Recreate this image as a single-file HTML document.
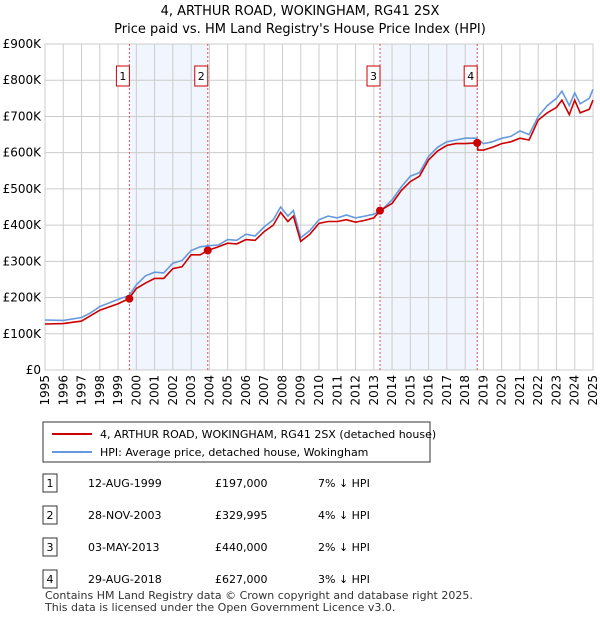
<!DOCTYPE html>
<html><head><meta charset="utf-8"><style>
body{margin:0;background:#fff;font-family:"Liberation Sans","DejaVu Sans",sans-serif;}
svg text{font-family:"DejaVu Sans","Liberation Sans",sans-serif;}
</style></head><body>
<svg id="c" width="600" height="620" xmlns="http://www.w3.org/2000/svg">
<text x="300" y="15" font-size="13" text-anchor="middle">4, ARTHUR ROAD, WOKINGHAM, RG41 2SX</text>
<text x="300" y="33" font-size="13" text-anchor="middle">Price paid vs. HM Land Registry's House Price Index (HPI)</text>
<g id="plot"></g>
<rect x="43" y="422" width="387" height="40" fill="#fff" stroke="#333"/>
<line x1="52" y1="434" x2="92" y2="434" stroke="#cc0000" stroke-width="2"/>
<text x="100" y="438" font-size="11">4, ARTHUR ROAD, WOKINGHAM, RG41 2SX (detached house)</text>
<line x1="52" y1="452" x2="92" y2="452" stroke="#6699dd" stroke-width="2"/>
<text x="100" y="456" font-size="11">HPI: Average price, detached house, Wokingham</text>
<g id="tbl" font-size="11"></g>
<text x="45" y="599" font-size="11" fill="#333">Contains HM Land Registry data © Crown copyright and database right 2025.</text>
<text x="45" y="611" font-size="11" fill="#333">This data is licensed under the Open Government Licence v3.0.</text>
</svg>
<script>
const hpiYears=[1995,1996,1997,1997.5,1998,1998.5,1999,1999.6,2000,2000.5,2001,2001.5,2002,2002.5,2003,2003.5,2003.9,2004.5,2005,2005.5,2006,2006.5,2007,2007.5,2007.9,2008.3,2008.6,2009,2009.5,2010,2010.5,2011,2011.5,2012,2012.5,2013,2013.4,2014,2014.5,2015,2015.5,2016,2016.5,2017,2017.5,2018,2018.6,2019,2019.5,2020,2020.5,2021,2021.5,2022,2022.5,2023,2023.3,2023.7,2024,2024.3,2024.8,2025];
const hpiValues=[138,137,145,158,175,185,195,205,235,260,270,268,295,302,330,340,343,345,360,358,375,370,395,415,450,425,440,365,385,415,425,420,428,420,425,430,440,470,505,535,545,590,615,630,635,640,640,625,630,640,645,660,650,700,730,750,770,730,765,735,750,775];
const priceYears=[1995,1996,1997,1998,1999,1999.6,2000,2000.5,2001,2001.5,2002,2002.5,2003,2003.5,2003.9,2004.5,2005,2005.5,2006,2006.5,2007,2007.5,2007.9,2008.3,2008.6,2009,2009.5,2010,2010.5,2011,2011.5,2012,2012.5,2013,2013.35,2014,2014.5,2015,2015.5,2016,2016.5,2017,2017.5,2018,2018.66,2018.7,2019,2019.5,2020,2020.5,2021,2021.5,2022,2022.5,2023,2023.3,2023.7,2024,2024.3,2024.8,2025];
const priceValues=[127,128,135,165,183,197,225,240,253,253,280,285,318,318,330,340,350,348,360,358,382,400,435,410,425,355,375,405,410,410,415,408,413,420,440,460,495,520,535,580,605,620,625,625,627,607,607,615,625,630,640,635,690,710,725,745,705,745,710,720,745];
const saleYears=[1999.62,2003.91,2013.34,2018.66];
const saleLabels=["1","2","3","4"];
const saleDates=["12-AUG-1999","28-NOV-2003","03-MAY-2013","29-AUG-2018"];
const salePrices=["£197,000","£329,995","£440,000","£627,000"];
const salePriceValues=[197,330,440,627];
const salePcts=["7% ↓ HPI","4% ↓ HPI","2% ↓ HPI","3% ↓ HPI"];
const yTicks=[0,100,200,300,400,500,600,700,800,900];
const yTickLabels=["£0","£100K","£200K","£300K","£400K","£500K","£600K","£700K","£800K","£900K"];
const xTicks=[1995,1996,1997,1998,1999,2000,2001,2002,2003,2004,2005,2006,2007,2008,2009,2010,2011,2012,2013,2014,2015,2016,2017,2018,2019,2020,2021,2022,2023,2024,2025];

const L=45,R=593,T=44,B=370;
const xs=y=>L+(y-1995)/30*(R-L);
const ys=v=>B-v/900*(B-T);
const NS="http://www.w3.org/2000/svg";
const plot=document.getElementById('plot');
function mk(tag,at,parent){const e=document.createElementNS(NS,tag);for(const k in at)e.setAttribute(k,at[k]);(parent||plot).appendChild(e);return e;}
// shaded
for(let i=0;i<4;i+=2){const r=mk('rect',{x:xs(saleYears[i]),y:T,width:xs(saleYears[i+1])-xs(saleYears[i]),height:B-T,fill:'#eef3fd',opacity:0.8});

}
// grid
yTicks.forEach((v,i)=>{const l=mk('line',{x1:L,x2:R,y1:ys(v),y2:ys(v),stroke:'#ccc'});


const t=mk('text',{x:L-4,y:ys(v)+4,'font-size':12,'text-anchor':'end'});t.textContent=yTickLabels[i];

});
xTicks.forEach(y=>{const l=mk('line',{x1:xs(y),x2:xs(y),y1:T,y2:B,stroke:'#ccc'});


const t=mk('text',{x:0,y:0,'font-size':12,'text-anchor':'end',transform:`translate(${xs(y)+4},${B+5}) rotate(-90)`});t.textContent=y;

});
mk('rect',{x:L,y:T,width:R-L,height:B-T,fill:'none',stroke:'#ccc'});
// vlines & markers
saleYears.forEach((y,i)=>{const l=mk('line',{x1:xs(y),x2:xs(y),y1:T,y2:B,stroke:'#e05050','stroke-dasharray':'2,2'});


const b=mk('rect',{x:xs(y)-13,y:66,width:13,height:20,fill:'#fff',stroke:'#cc0000'});


const t=mk('text',{x:xs(y)-6.5,y:80,'font-size':11,'text-anchor':'middle'});t.textContent=saleLabels[i];

});
function path(xa,va,color,name){let d=xa.map((y,i)=>(i?'L':'M')+xs(y).toFixed(1)+','+ys(va[i]).toFixed(1)).join('');
const p=mk('path',{d:d,fill:'none',stroke:color,'stroke-width':1.6});

}
path(hpiYears,hpiValues,'#6699dd','hpi-line');
path(priceYears,priceValues,'#cc0000','price-paid-line');
saleYears.forEach((y,i)=>{const c=mk('circle',{cx:xs(y),cy:ys(salePriceValues[i]),r:4,fill:'#cc0000'});

});
// table
const tbl=document.getElementById('tbl');
saleYears.forEach((y,i)=>{const cy=483+i*32;
const b=mk('rect',{x:43,y:cy-9,width:14,height:18,fill:'#fff',stroke:'#333'},tbl);


const cells=[[50,saleLabels[i],'middle'],[88,saleDates[i],'start'],[215,salePrices[i],'start'],[318,salePcts[i],'start']];
cells.forEach(c=>{const t=mk('text',{x:c[0],y:cy+4,'text-anchor':c[2]},tbl);t.textContent=c[1];

});});
</script>
</body></html>
